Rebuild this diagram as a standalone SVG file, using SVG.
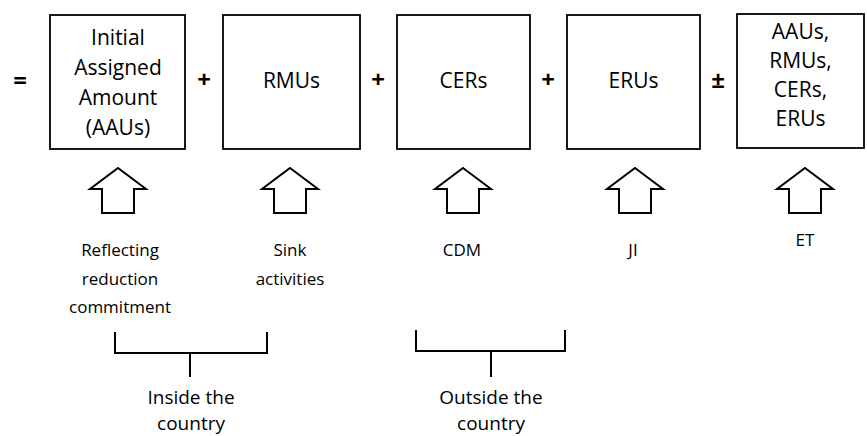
<svg xmlns="http://www.w3.org/2000/svg" width="867" height="436" viewBox="0 0 867 436">
<style>
.box{fill:#fff;stroke:#000;stroke-width:1.8}
.bt{font-family:"Open Sans","Noto Sans",sans-serif;font-size:21px;fill:#000;text-anchor:middle}
.op{font-family:"Open Sans","Noto Sans",sans-serif;font-size:24px;font-weight:bold;fill:#000;text-anchor:middle}
.lb{font-family:"Open Sans","Noto Sans",sans-serif;font-size:17px;fill:#000;text-anchor:middle}
.bot{font-family:"Open Sans","Noto Sans",sans-serif;font-size:19px;fill:#000;text-anchor:middle}
.arr{fill:#fff;stroke:#000;stroke-width:2;stroke-linejoin:miter}
.con{fill:none;stroke:#000;stroke-width:2}
</style>
<defs>
<path id="arrow" class="arr" d="M0,168 L28,189 L16,189 L16,213 L-16,213 L-16,189 L-28,189 Z"/>
</defs>
<rect width="867" height="436" fill="#fff"/>
<g id="operators">
<text class="op" x="20" y="89" font-size="28">=</text>
<text class="op" x="204" y="88">+</text>
<text class="op" x="378" y="88">+</text>
<text class="op" x="548" y="88">+</text>
<text class="op" x="718" y="88">±</text>
</g>
<g id="aau">
<rect class="box" x="50" y="15" width="135" height="134"/>
<text class="bt" x="118" y="45">Initial</text>
<text class="bt" x="118" y="75">Assigned</text>
<text class="bt" x="118" y="105">Amount</text>
<text class="bt" x="118" y="135">(AAUs)</text>
</g>
<g id="rmu">
<rect class="box" x="223" y="15" width="137" height="134"/>
<text class="bt" x="291.5" y="88">RMUs</text>
</g>
<g id="cer">
<rect class="box" x="397" y="15" width="133" height="134"/>
<text class="bt" x="463.5" y="88">CERs</text>
</g>
<g id="eru">
<rect class="box" x="567" y="15" width="133" height="134"/>
<text class="bt" x="633.5" y="88">ERUs</text>
</g>
<g id="all">
<rect class="box" x="737" y="14" width="127" height="134"/>
<text class="bt" x="800.5" y="39">AAUs,</text>
<text class="bt" x="800.5" y="68">RMUs,</text>
<text class="bt" x="800.5" y="97">CERs,</text>
<text class="bt" x="800.5" y="126">ERUs</text>
</g>
<g id="src-reflect">
<use href="#arrow" x="118"/>
<text class="lb" x="120" y="256">Reflecting</text>
<text class="lb" x="120" y="285">reduction</text>
<text class="lb" x="120" y="313">commitment</text>
</g>
<g id="src-sink">
<use href="#arrow" x="290"/>
<text class="lb" x="290" y="256">Sink</text>
<text class="lb" x="290" y="285">activities</text>
</g>
<g id="src-cdm">
<use href="#arrow" x="463"/>
<text class="lb" x="462" y="256">CDM</text>
</g>
<g id="src-ji">
<use href="#arrow" x="635"/>
<text class="lb" x="633" y="256">JI</text>
</g>
<g id="src-et">
<use href="#arrow" x="805"/>
<text class="lb" x="805" y="246">ET</text>
</g>
<g id="connectors">
<path class="con" d="M115,332 V353 H267 V332"/>
<path class="con" d="M190,353 V377"/>
<path class="con" d="M416,330 V351 H565 V330"/>
<path class="con" d="M491,351 V377"/>
</g>
<g id="inside">
<text class="bot" x="191" y="404">Inside the</text>
<text class="bot" x="191" y="430">country</text>
</g>
<g id="outside">
<text class="bot" x="491" y="404">Outside the</text>
<text class="bot" x="491" y="430">country</text>
</g>
</svg>
